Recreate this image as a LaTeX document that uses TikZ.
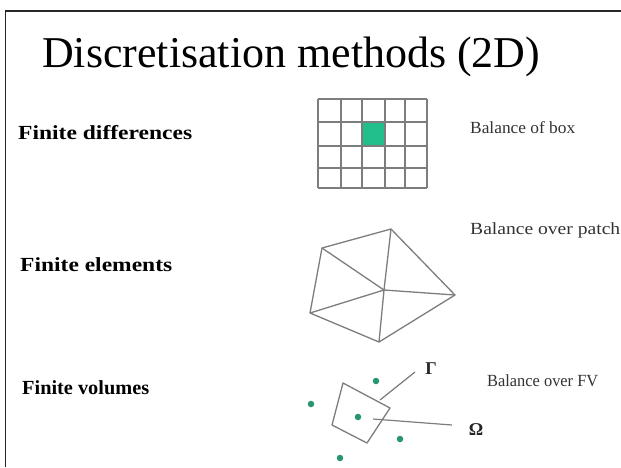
\documentclass[tikz,border=0pt]{standalone}
\usepackage{fontspec}
\setmainfont{Liberation Serif}
\usepackage{graphicx}
\definecolor{cellgreen}{RGB}{34,190,140}
\definecolor{dotgreen}{RGB}{38,150,110}
\definecolor{linegray}{RGB}{125,125,125}
\newcommand{\fitw}[2]{\resizebox{#1}{\height}{#2}}
\begin{document}
\begin{tikzpicture}[x=1pt,y=-1pt,
  lbl/.style={anchor=base west, inner sep=0pt, font=\fontsize{20}{24}\selectfont\bfseries},
  rlbl/.style={anchor=base west, inner sep=0pt, font=\fontsize{17}{20}\selectfont, text=black!80},
  meshline/.style={draw=linegray, line width=1.3pt, line join=round},
  fvdot/.style={circle, fill=dotgreen, inner sep=0pt, minimum size=6.5pt},
  frameline/.style={draw=black!85, line width=1.6pt}]
\useasboundingbox (0,0) rectangle (621,467);
\fill[white] (0,0) rectangle (621,467);
% frame
\coordinate (fr1) at (621,11);
\coordinate (fr2) at (5.5,11);
\coordinate (fr3) at (5.5,467);
\draw[frameline] (fr1) -- (fr2) -- (fr3);
% title
\node[anchor=base west, inner sep=0pt, font=\fontsize{44}{50}\selectfont] (title) at (42,67) {\fitw{498pt}{Discretisation methods (2D)}};
% left labels
\node[lbl] (fd) at (18,139) {\fitw{174pt}{Finite differences}};
\node[lbl] (fe) at (20,271) {\fitw{152pt}{Finite elements}};
\node[lbl] (fv) at (22,394) {\fitw{127pt}{Finite volumes}};
% right labels
\node[rlbl] (bb) at (470,133) {\fitw{105pt}{Balance of box}};
\node[rlbl] (bp) at (470,234) {\fitw{150pt}{Balance over patch}};
\node[rlbl] (bf) at (487,386) {\fitw{111pt}{Balance over FV}};
% finite difference grid
\fill[cellgreen] (362,122) rectangle (385,146);
\draw[meshline, line width=1.6pt] (362,122) rectangle (385,146);
\foreach \xx in {318,341,362,385,405,427} \draw[meshline] (\xx,99) -- (\xx,188);
\foreach \yy in {99,122,146,168,188} \draw[meshline] (318,\yy) -- (427,\yy);
% finite element patch
\coordinate (pa) at (322,248);
\coordinate (pb) at (391,229);
\coordinate (pc) at (455,295);
\coordinate (pd) at (379,342);
\coordinate (pe) at (310,313);
\coordinate (pm) at (384,290);
\draw[meshline] (pa) -- (pb) -- (pc) -- (pd) -- (pe) -- cycle;
\foreach \v in {pa,pb,pc,pd,pe} \draw[meshline] (pm) -- (\v);
% finite volume
\coordinate (qa) at (343,383);
\coordinate (qb) at (390,408);
\coordinate (qc) at (367,443);
\coordinate (qd) at (332,425);
\draw[meshline] (qa) -- (qb) -- (qc) -- (qd) -- cycle;
\node[fvdot] (d1) at (376,381) {};
\node[fvdot] (d2) at (311,404) {};
\node[fvdot] (d3) at (358,417) {};
\node[fvdot] (d4) at (400,439) {};
\node[fvdot] (d5) at (340,458) {};
\node[anchor=base, inner sep=0pt, font=\fontsize{18}{21}\selectfont\bfseries, text=black!85] (gam) at (431,374) {Γ};
\node[anchor=base, inner sep=0pt, font=\fontsize{18}{21}\selectfont\bfseries, text=black!85] (om) at (476,435) {Ω};
\coordinate (g0) at (380,400);
\coordinate (g1) at (415,372);
\coordinate (o0) at (373,419);
\coordinate (o1) at (452,425);
\draw[meshline, line width=1.2pt] (g0) -- (g1);
\draw[meshline, line width=1.2pt] (o0) -- (o1);
\end{tikzpicture}
\end{document}
